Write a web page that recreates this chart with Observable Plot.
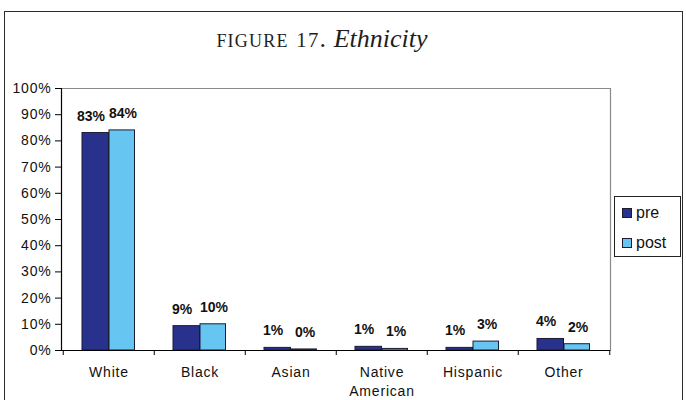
<!DOCTYPE html>
<html>
<head>
<meta charset="utf-8">
<script src="https://cdn.jsdelivr.net/npm/d3@7"></script>
<script src="https://cdn.jsdelivr.net/npm/@observablehq/plot@0.6"></script>
<style>
  body { margin: 0; background: #fff; }
  #page { position: relative; width: 686px; height: 400px; overflow: hidden; background: #fff; }
  #border { position: absolute; left: 4px; top: 11px; width: 679px; height: 420px;
            border: 1.5px solid #2b2b2b; box-sizing: border-box; }
  #title { position: absolute; left: 0; top: 24px; width: 644px; text-align: center;
           font-family: "Liberation Serif", "DejaVu Serif", serif; font-size: 26px; color: #1e1e1e; }
  #title .sc { font-variant: small-caps; letter-spacing: 1.2px; }
  #title .num { font-size: 0.8em; }
  #title em { font-style: italic; }
  #chart { position: absolute; left: 0; top: 0; }
  #chart g[aria-label="x-axis tick label"] text,
  #chart g[aria-label="y-axis tick label"] text { letter-spacing: 0.8px; }
  #legend { position: absolute; left: 614px; top: 196px; width: 67px; height: 61px;
            border: 1px solid #222; box-sizing: border-box; background: #fff;
            font-family: "Liberation Sans", Arial, sans-serif; font-size: 16px; color: #111; }
  #legend .item { position: absolute; left: 7px; display: flex; align-items: center; height: 20px; }
  #legend .sw { width: 8px; height: 8px; border: 1px solid #1b1b33; margin-right: 4px; }
</style>
</head>
<body>
<div id="page">
  <div id="border"></div>
  <div id="title"><span class="sc">figure <span class="num">17</span>.</span> <em>Ethnicity</em></div>
  <div id="chart"></div>
  <div id="legend"></div>
</div>
<script>
// Share of respondents by ethnicity, before and after
const categories = ["White", "Black", "Asian", "Native American", "Hispanic", "Other"];
const series = ["pre", "post"];
const preValues = [83, 9.3, 1, 1.4, 1, 4.4];
const postValues = [84, 10, 0.4, 0.6, 3.4, 2.4];
const yTicks = [0, 10, 20, 30, 40, 50, 60, 70, 80, 90, 100];
const seriesColors = ["#28328c", "#66c5f1"];

const rows = categories.flatMap((category, i) => [
  {category, series: "pre", value: preValues[i]},
  {category, series: "post", value: postValues[i]}
]);
const preRows = rows.filter(d => d.series === "pre");
const postRows = rows.filter(d => d.series === "post");
const pct = d => Math.round(d.value) + "%";

const chart = Plot.plot({
  width: 686,
  height: 400,
  marginTop: 88,
  marginBottom: 50,
  marginLeft: 61,
  marginRight: 76,
  style: {fontFamily: "Liberation Sans, Arial, sans-serif", fontSize: "14px", color: "#111", background: "transparent", overflow: "visible"},
  x: {domain: categories, padding: 0, label: null},
  y: {domain: [0, 100], label: null},
  color: {domain: series, range: seriesColors},
  marks: [
    // plot area outline: grey top/right, black axis lines left/bottom
    Plot.ruleY([100], {stroke: "#8a8a8a", strokeWidth: 1.2}),
    Plot.frame({anchor: "right", stroke: "#8a8a8a", strokeWidth: 1.2}),
    Plot.barY(preRows, {x: "category", y: "value", fill: "series", stroke: "#1b1b33", strokeWidth: 1,
                        insetLeft: 19, insetRight: 45.5}),
    Plot.barY(postRows, {x: "category", y: "value", fill: "series", stroke: "#1b1b33", strokeWidth: 1,
                         insetLeft: 46, insetRight: 19.5}),
    Plot.text(preRows, {x: "category", y: "value", text: pct, dx: -18, dy: -17,
                        fontWeight: "bold", fontSize: 14, fill: "#111"}),
    Plot.text(postRows, {x: "category", y: "value", text: pct, dx: 14, dy: -17,
                         fontWeight: "bold", fontSize: 14, fill: "#111"}),
    Plot.frame({anchor: "left", stroke: "#000", strokeWidth: 1.2}),
    Plot.ruleY([0], {stroke: "#000", strokeWidth: 1.2}),
    // category boundary ticks below the baseline
    Plot.ruleX(categories, {x: d => d, y1: 0, y2: 0, dx: -45.75, insetBottom: -5, stroke: "#000"}),
    Plot.ruleX(categories.slice(-1), {x: d => d, y1: 0, y2: 0, dx: 45.75, insetBottom: -5, stroke: "#000"}),
    Plot.axisY(yTicks, {tickSize: 6, tickPadding: 4, fontSize: 14, stroke: "#000",
                        tickFormat: d => d + "%", label: null}),
    Plot.axisX({tickSize: 0, tickPadding: 12, fontSize: 14, lineHeight: 1.42,
                tickFormat: d => d.replace(" ", "\n"), label: null})
  ]
});
document.getElementById("chart").append(chart);

// legend box
const legend = document.getElementById("legend");
series.forEach((s, i) => {
  const item = document.createElement("div");
  item.className = "item";
  item.style.top = (6 + i * 30) + "px";
  const sw = document.createElement("div");
  sw.className = "sw";
  sw.style.background = seriesColors[i];
  const label = document.createElement("span");
  label.textContent = s;
  item.append(sw, label);
  legend.append(item);
});
</script>
</body>
</html>
